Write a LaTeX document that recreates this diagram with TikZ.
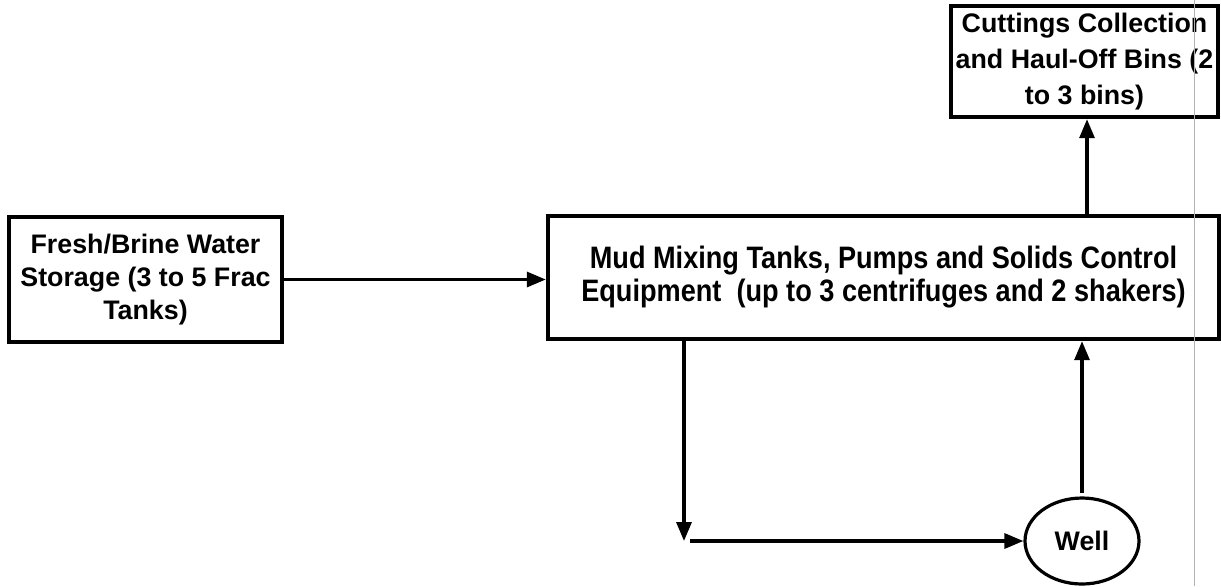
\documentclass[tikz,border=0pt]{standalone}
\usepackage{fontspec}
\setmainfont{Liberation Sans}
\newfontfamily\narrowfont[FakeStretch=0.875]{Liberation Sans}
\usetikzlibrary{arrows.meta,shapes.geometric}
\begin{document}
\begin{tikzpicture}[x=0.5pt,y=-0.5pt,
  box/.style={draw,line width=2.2pt,rectangle,inner sep=0pt,align=center,
    font=\fontsize{13.4}{16.5}\selectfont\bfseries},
  mainbox/.style={box,font=\fontsize{15.5}{16.5}\selectfont\narrowfont\bfseries},
  wellnode/.style={draw,ellipse,line width=1.6pt,inner sep=0pt,
    font=\fontsize{13.4}{16}\selectfont\bfseries},
  flow/.style={line width=1.6pt,-{Triangle[length=9.5pt,width=7.5pt]}},
  scanline/.style={draw=gray!60,line width=0.4pt}]
\useasboundingbox (0,0) rectangle (1221,586);
\node[box,minimum width=136.5pt,minimum height=62.5pt] (left) at (145.5,279.5)
  {Fresh/Brine Water\\Storage (3 to 5 Frac\\Tanks)};
\node[mainbox,minimum width=335.5pt,minimum height=61.5pt] (main) at (883.5,277.5)
  {Mud Mixing Tanks, Pumps and Solids Control\\Equipment\ \ (up to 3 centrifuges and 2 shakers)};
\node[box,font=\fontsize{13.4}{18}\selectfont\bfseries,minimum width=133.5pt,minimum height=55.5pt] (cut) at (1084.5,61.5)
  {Cuttings Collection\\and Haul-Off Bins (2\\to 3 bins)};
\node[wellnode,minimum width=57pt,minimum height=43pt] (well) at (1082,541) {Well};
\draw[scanline] (1194,0) -- (1194,586);
\coordinate (cx) at (1087,0);
\coordinate (d1) at (684,541);
\coordinate (h0) at (690,541);
\coordinate (u0) at (1082,493);
\draw[flow] (left.east) -- (left.east -| main.west);
\draw[flow] (cx |- main.north) -- (cx |- cut.south);
\draw[flow] (main.south -| d1) -- (d1);
\draw[flow] (h0) -- (well.west);
\draw[flow] (u0) -- (u0 |- main.south);
\end{tikzpicture}
\end{document}
